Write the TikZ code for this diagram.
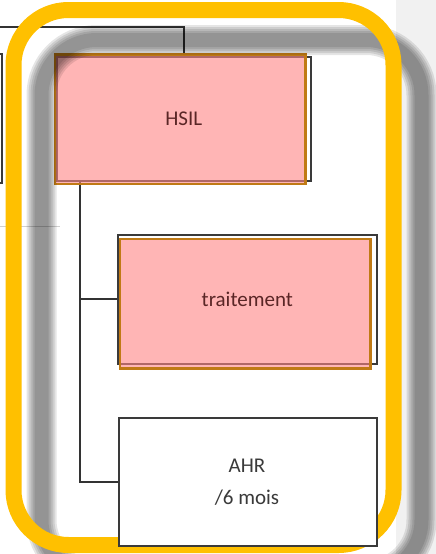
\documentclass[tikz,border=0pt]{standalone}
\usepackage{fontspec}
\setmainfont{Carlito}
\definecolor{linegray}{HTML}{333333}
\definecolor{framegray}{HTML}{3A3A3A}
\definecolor{pinkfill}{HTML}{FF8585}
\definecolor{orangeborder}{HTML}{C07A15}
\definecolor{gold}{HTML}{FFC000}
\definecolor{panelgray}{HTML}{F1F1F1}
\definecolor{faint}{HTML}{D0D0D0}
\definecolor{pinktext}{HTML}{5A2626}
\definecolor{graytext}{HTML}{3A3A3A}
\begin{document}
\begin{tikzpicture}[x=1pt,y=-1pt,
  conn/.style={draw=linegray,line width=2pt},
  frame/.style={draw=framegray,line width=1.6pt,inner sep=0pt,anchor=north west,rectangle},
  pinkbox/.style={fill=pinkfill,fill opacity=0.6,draw=orangeborder,draw opacity=1,line width=2.6pt,inner sep=0pt,anchor=north west,rectangle},
  whitebox/.style={fill=white,draw=framegray,line width=2pt,inner sep=0pt,anchor=north west,rectangle},
  lbl/.style={font=\fontsize{21}{32}\selectfont,align=center,inner sep=0pt},
  shadowstroke/.style={draw=black,draw opacity=0.1,rounded corners=55pt}
]
\useasboundingbox (0,0) rectangle (436,554);
\clip (0,0) rectangle (436,554);
\fill[white] (0,0) rectangle (436,554);
\fill[panelgray] (396,0) rectangle (436,554);

% faint separator and clipped box at left
\draw[faint,line width=1pt] (0,226) -- (60,226);
\node[frame,minimum width=101pt,minimum height=129pt] (leftbox) at (-100,53) {};

% boxes (frames first)
\node[frame,minimum width=254pt,minimum height=124pt] (hsilframe) at (56,56) {};
\node[frame,minimum width=259pt,minimum height=129pt] (traitframe) at (117,234) {};

% connectors
\coordinate (topin) at (0,27);
\coordinate (trunk) at (80,0);
\draw[conn] (topin) -| (hsilframe.north);
\draw[conn] (hsilframe.south -| trunk) |- (traitframe.west);

% pink boxes
\node[pinkbox,minimum width=250.5pt,minimum height=129.5pt] (hsil) at (53.5,53) {};
\node[pinkbox,minimum width=250.5pt,minimum height=129.5pt] (trait) at (118.5,237.5) {};

% blurred shadow of the frame
\foreach \w in {30,26,22,18,14}{
  \draw[shadowstroke,line width=\w pt] (41.5,40) rectangle (421.5,575);
}

% yellow highlight
\draw[gold,line width=16pt,rounded corners=55pt] (13.5,10) rectangle (393.5,545);

% AHR box over the highlight
\node[whitebox,minimum width=258pt,minimum height=128pt] (ahr) at (118,417) {};
\draw[conn] (hsil.south -| trunk) |- (ahr.west);

% labels
\node[lbl,text=pinktext] (hsiltxt) at (hsilframe.center) {HSIL};
\node[lbl,text=pinktext] (traittxt) at (traitframe.center) {traitement};
\node[lbl,text=graytext] (ahrtxt) at (247,482) {AHR\\/6 mois};
\end{tikzpicture}
\end{document}
